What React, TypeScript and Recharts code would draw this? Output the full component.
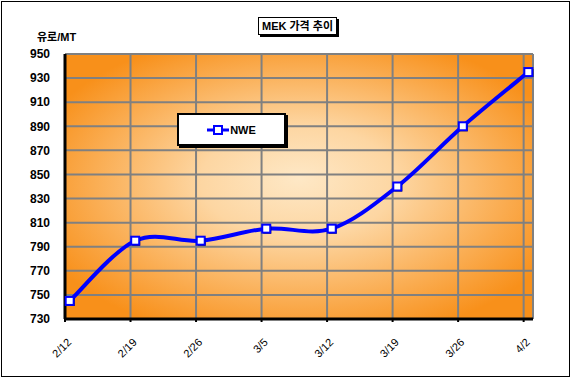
import React from 'react';
import {
  LineChart,
  Line,
  XAxis,
  YAxis,
  CartesianGrid,
  ReferenceLine,
} from 'recharts';

const categories = ['2/12', '2/19', '2/26', '3/5', '3/12', '3/19', '3/26', '4/2'];
const nweValues = [745, 795, 795, 805, 805, 840, 890, 935];
const yTicks = [730, 750, 770, 790, 810, 830, 850, 870, 890, 910, 930, 950];
const seriesName = 'NWE';

const MONTH_LEN = [31, 28, 31, 30, 31, 30, 31, 31, 30, 31, 30, 31];
const dayOfYear = (label: string) => {
  const [m, d] = label.split('/').map(Number);
  let n = 0;
  for (let i = 0; i < m - 1; i++) n += MONTH_LEN[i];
  return n + d;
};
const startDay = dayOfYear(categories[0]);
const tickDays = categories.map((c) => dayOfYear(c) - startDay);
const data = categories.map((c, i) => ({
  day: dayOfYear(c) - startDay + 0.5,
  label: c,
  NWE: nweValues[i],
}));
const labelByDay: Record<number, string> = {};
categories.forEach((c, i) => (labelByDay[tickDays[i]] = c));
const lastDay = tickDays[tickDays.length - 1] + 1;

// Excel-like smoothed curve (Catmull-Rom style cardinal spline)
const excelCurve = (context: any) => {
  let pts: number[][] = [];
  return {
    areaStart() {},
    areaEnd() {},
    lineStart() {
      pts = [];
    },
    point(x: number, y: number) {
      pts.push([+x, +y]);
    },
    lineEnd() {
      if (!pts.length) return;
      context.moveTo(pts[0][0], pts[0][1]);
      for (let i = 0; i < pts.length - 1; i++) {
        const p0 = pts[i - 1] || pts[i];
        const p1 = pts[i];
        const p2 = pts[i + 1];
        const p3 = pts[i + 2] || pts[i + 1];
        const c1x = p1[0] + (p2[0] - p0[0]) / 6;
        const c1y = p1[1] + (p2[1] - p0[1]) / 6;
        const c2x = p2[0] - (p3[0] - p1[0]) / 6;
        const c2y = p2[1] - (p3[1] - p1[1]) / 6;
        context.bezierCurveTo(c1x, c1y, c2x, c2y, p2[0], p2[1]);
      }
    },
  };
};

const FONT = "Arial, 'Liberation Sans', 'Noto Sans CJK KR', sans-serif";

const SquareDot = (props: any) => {
  const { cx, cy } = props;
  if (cx == null || cy == null) return null;
  return (
    <g>
      <rect x={cx - 3} y={cy - 3} width={8} height={8} fill="#000" />
      <rect x={cx - 4} y={cy - 4} width={8} height={8} fill="#fff" stroke="#0000ff" strokeWidth={2} />
    </g>
  );
};

const XTick = (props: any) => {
  const { x, y, payload } = props;
  const ax = x + 7;
  const ay = y + 19;
  return (
    <text
      x={ax}
      y={ay}
      transform={`rotate(-45, ${ax}, ${ay})`}
      textAnchor="end"
      fontFamily={FONT}
      fontSize={11}
      fill="#000"
    >
      {labelByDay[payload.value]}
    </text>
  );
};

export default function App() {
  return (
    <div style={{ position: 'absolute', left: 0, top: 0, width: 572, height: 381, background: '#fff' }}>
      <svg width={0} height={0} style={{ position: 'absolute' }}>
        <defs>
          <radialGradient id="plotBg" cx="50%" cy="50%" r="60%" fx="50%" fy="47%">
            <stop offset="0%" stopColor="#FEE8C6" />
            <stop offset="35%" stopColor="#FDD6A2" />
            <stop offset="100%" stopColor="#F8901A" />
          </radialGradient>
        </defs>
      </svg>
      <div
        style={{
          position: 'absolute',
          left: 1,
          top: 1,
          width: 569,
          height: 376,
          border: '1px solid #000',
          boxSizing: 'border-box',
        }}
      />
      <LineChart
        width={572}
        height={381}
        data={data}
        margin={{ top: 54, right: 39, bottom: 12, left: 8 }}
        style={{ position: 'absolute', left: 0, top: 0 }}
      >
        <CartesianGrid
          fill="url(#plotBg)"
          stroke="#808080"
          strokeWidth={2}
          verticalValues={tickDays}
          horizontalValues={yTicks}
        />
        <ReferenceLine x={lastDay} stroke="#808080" strokeWidth={2} />
        <XAxis
          dataKey="day"
          type="number"
          domain={[0, lastDay]}
          ticks={tickDays}
          interval={0}
          height={50}
          axisLine={{ stroke: '#000', strokeWidth: 3 }}
          tickLine={{ stroke: '#000', strokeWidth: 2 }}
          tickSize={3}
          tick={<XTick />}
        />
        <YAxis
          type="number"
          domain={[730, 950]}
          ticks={yTicks}
          interval={0}
          width={57}
          axisLine={{ stroke: '#000', strokeWidth: 3 }}
          tickLine={false}
          tickSize={0}
          tickMargin={15}
          tick={{ fontFamily: FONT, fontSize: 12, fontWeight: 'bold', fill: '#000' }}
        />
        <Line
          type={excelCurve as any}
          dataKey="NWE"
          name={seriesName}
          stroke="#0000ff"
          strokeWidth={4}
          dot={<SquareDot />}
          activeDot={false}
          isAnimationActive={false}
        />
      </LineChart>
      <div
        style={{
          position: 'absolute',
          left: 177,
          top: 113,
          width: 109,
          height: 33,
          border: '2px solid #000',
          background: '#fff',
          boxShadow: '2px 2px 0 #000',
          display: 'flex',
          alignItems: 'center',
          justifyContent: 'center',
          fontFamily: FONT,
          fontWeight: 'bold',
          fontSize: 11,
          boxSizing: 'border-box',
        }}
      >
        <svg width={22} height={10} style={{ marginRight: 1 }}>
          <line x1={0} y1={5} x2={22} y2={5} stroke="#0000ff" strokeWidth={3} />
          <rect x={7} y={1} width={8} height={8} fill="#fff" stroke="#0000ff" strokeWidth={2} />
        </svg>
        <span>{seriesName}</span>
      </div>
      <div
        style={{
          position: 'absolute',
          left: 37,
          top: 28,
          fontFamily: FONT,
          fontWeight: 'bold',
          fontSize: 11,
          color: '#000',
          whiteSpace: 'nowrap',
        }}
      >
        유로/MT
      </div>
      <div
        style={{
          position: 'absolute',
          left: 258,
          top: 17,
          width: 79,
          height: 18,
          border: '1px solid #000',
          boxShadow: '2px 2px 0 #000',
          background: '#fff',
          boxSizing: 'border-box',
          fontFamily: FONT,
          fontWeight: 'bold',
          fontSize: 11,
          lineHeight: '16px',
          textAlign: 'center',
          whiteSpace: 'nowrap',
        }}
      >
        MEK 가격 추이
      </div>
    </div>
  );
}
